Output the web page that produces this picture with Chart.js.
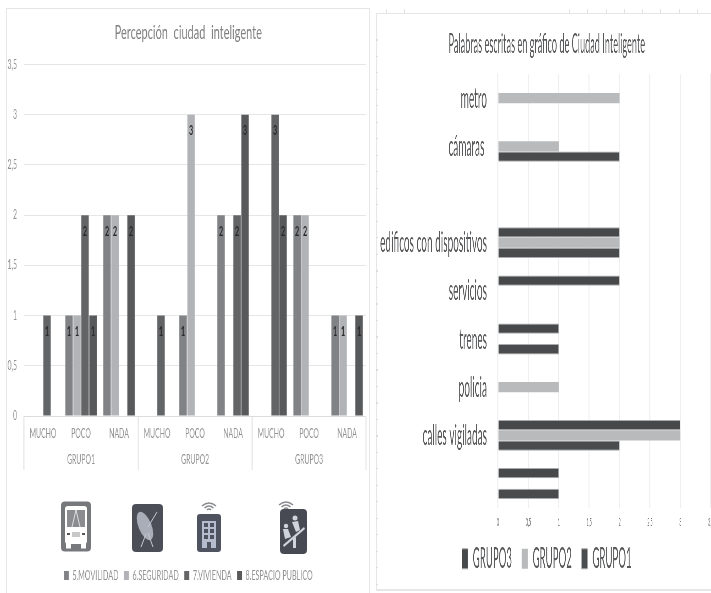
<!DOCTYPE html>
<html lang="es">
<head>
<meta charset="utf-8">
<title>Ciudad inteligente</title>
<script src="https://cdn.jsdelivr.net/npm/chart.js@4/dist/chart.umd.min.js"></script>
<style>
  html, body { margin: 0; padding: 0; background: #fff; width: 711px; height: 593px; overflow: hidden; }
  canvas { position: absolute; transform-origin: 0 0; }
  #percepcion { left: 6px; top: 8px; transform: scaleX(.55); }
  #palabras { left: 376px; top: 13px; transform: scaleX(.34); }
  .marco { position: absolute; box-sizing: border-box; border: 1px solid #e6e6e6; }
  #marco1 { left: 6px; top: 8px; width: 364px; height: 590px; }
  #marco2 { left: 376px; top: 13px; width: 340px; height: 578px; border-width: 1px 0 2px 1px; }
  #iconos { position: absolute; left: 0; top: 495px; }
  /* marcas de regla alrededor del segundo grafico */
  .regla { position: absolute; background: repeating-linear-gradient(90deg, #e2e2e2 0 1px, transparent 1px 18.3px); }
  #regla1 { left: 386px; top: 9px; width: 37px; height: 4px; }
  #regla2 { left: 569px; top: 9px; width: 142px; height: 4px; }
  #regla3 { left: 376px; top: 30px; width: 2px; height: 555px; background: repeating-linear-gradient(0deg, #dcdcdc 0 1px, transparent 1px 16.5px); }
</style>
</head>
<body>
<div class="marco" id="marco1"></div>
<div class="marco" id="marco2"></div>
<div class="regla" id="regla1"></div>
<div class="regla" id="regla2"></div>
<div class="regla" id="regla3"></div>
<canvas id="percepcion" width="670" height="585"></canvas>
<canvas id="palabras" width="1026" height="577"></canvas>

<svg id="iconos" width="330" height="65" viewBox="0 495 330 65">
  <defs>
    <g id="wifi" fill="none" stroke="#8a8c90" stroke-width="1.6">
      <path d="M-7 2 Q0 -4 7 2"/><path d="M-4.5 4 Q0 0 4.5 4"/><path d="M-2 6 Q0 4 2 6"/>
    </g>
  </defs>
  <!-- autobus -->
  <rect x="61" y="501.5" width="30" height="50" rx="4" fill="#77787b"/>
  <g fill="#fff">
    <rect x="65" y="506" width="22" height="38" rx="3"/>
    <rect x="66" y="543" width="5" height="5.5"/><rect x="81" y="543" width="5" height="5.5"/>
  </g>
  <rect x="67" y="510" width="18" height="17" fill="#8b8c8f"/>
  <path d="M76 510 L72 527 M76 510 L80 527" stroke="#fff" stroke-width=".7" fill="none"/>
  <rect x="72" y="532" width="8" height="5" fill="#c9c9ca"/>
  <rect x="67" y="533" width="3" height="2" fill="#58595b"/><rect x="82" y="533" width="3" height="2" fill="#58595b"/>
  <!-- antena -->
  <rect x="132" y="504" width="31" height="48" rx="4" fill="#4b4e57"/>
  <ellipse cx="145" cy="526" rx="6.5" ry="15" fill="#a9adb8" transform="rotate(-22 145 526)"/>
  <path d="M148 527 L157 512 M146 534 L141 547 M148 533 L153 547" stroke="#c4c7cf" stroke-width="1" fill="none"/>
  <!-- edificio -->
  <use href="#wifi" x="209" y="504"/>
  <rect x="197" y="514" width="24" height="38" rx="3" fill="#4f5360"/>
  <rect x="202" y="521" width="14" height="27" fill="#b4bccd"/>
  <g fill="#4f5360">
    <rect x="204" y="523" width="4" height="4"/><rect x="210" y="523" width="4" height="4"/>
    <rect x="204" y="529" width="4" height="4"/><rect x="210" y="529" width="4" height="4"/>
    <rect x="204" y="535" width="4" height="4"/><rect x="210" y="535" width="4" height="4"/>
    <rect x="207" y="542" width="4" height="6"/>
  </g>
  <!-- espacio publico -->
  <use href="#wifi" x="286" y="503"/>
  <rect x="280" y="509" width="27" height="45" rx="4" fill="#474a52"/>
  <g fill="#cfd3dc">
    <circle cx="295" cy="518" r="2.5"/><circle cx="286" cy="526" r="2.2"/>
    <path d="M283 545 L304 527 L305 529 L284 547 Z"/>
    <path d="M292 522 L298 521 L300 530 L296 532 Z"/>
    <path d="M283 529 L288 529 L291 537 L285 539 Z"/>
    <path d="M293 538 L296 537 L296 548 L293 548 Z"/>
  </g>
</svg>

<script>
// Grafico 1: percepcion por grupo
const categorias = [
  ["MUCHO", ""], ["POCO", "GRUPO1"], ["NADA", ""],
  ["MUCHO", ""], ["POCO", "GRUPO2"], ["NADA", ""],
  ["MUCHO", ""], ["POCO", "GRUPO3"], ["NADA", ""]
];
const movilidad = [null, 1, 2, null, 1, 2, null, 2, 1];
const seguridad = [null, 1, 2, null, 3, null, null, 2, 1];
const vivienda = [1, 2, null, 1, null, 2, 3, null, null];
const espacioPublico = [null, 1, 2, null, null, 3, 2, null, 1];

// Grafico 2: palabras escritas
const palabras = ["metro", "cámaras ", "", "edificos con dispositivos", "servicios", "trenes", "policia", "calles vigiladas", ""];
const grupo3 = [null, null, null, 2, 2, 1, null, 3, 1];
const grupo2 = [2, 1, null, 2, null, null, 1, 3, null];
const grupo1 = [null, 2, null, 2, null, 1, null, 2, 1];

const GRIS_TEXTO = "#939393";
const fuente = "Lato";

// numero dentro de cada barra, cerca del extremo superior
const etiquetasBarras = {
  id: "etiquetasBarras",
  afterDatasetsDraw(chart) {
    const ctx = chart.ctx;
    ctx.save();
    ctx.font = "bold 13px " + fuente;
    ctx.fillStyle = "#2a2a2a";
    ctx.textAlign = "center";
    ctx.textBaseline = "middle";
    chart.data.datasets.forEach((ds, i) => {
      chart.getDatasetMeta(i).data.forEach((bar, j) => {
        if (ds.data[j] !== null) ctx.fillText(ds.data[j], bar.x, bar.y + 16.5);
      });
    });
    ctx.restore();
  }
};

// eje vacio a la derecha: reserva margen sin mover titulo ni leyenda
function margenDerecho(ancho) {
  return {
    position: "right",
    afterFit(s) { s.width = ancho; },
    border: { display: false },
    grid: { display: false, drawTicks: false },
    ticks: { display: false }
  };
}

new Chart(document.getElementById("percepcion"), {
  type: "bar",
  plugins: [etiquetasBarras],
  data: {
    labels: categorias,
    datasets: [
      { label: "5.MOVILIDAD", data: movilidad, backgroundColor: "#808285" },
      { label: "6.SEGURIDAD", data: seguridad, backgroundColor: "#b1b3b6" },
      { label: "7.VIVIENDA", data: vivienda, backgroundColor: "#636466" },
      { label: "8.ESPACIO PUBLICO", data: espacioPublico, backgroundColor: "#58595b" }
    ]
  },
  options: {
    responsive: false,
    animation: false,
    layout: { padding: { top: 0, right: 7.3, bottom: 1, left: 0 } },
    datasets: { bar: { categoryPercentage: 0.842, barPercentage: 0.93 } },
    scales: {
      x: {
        afterFit(s) { s.height = 143; },
        border: { color: "#dcdcdc" },
        grid: {
          offset: true,
          drawOnChartArea: false,
          tickLength: 54,
          tickWidth: 2,
          tickColor: c => (c.index === undefined || c.index % 3 === 0) ? "#e4e4e4" : "transparent"
        },
        ticks: {
          padding: -49,
          maxRotation: 0,
          autoSkip: false,
          color: GRIS_TEXTO,
          font: { family: fuente, size: 12.5, lineHeight: 2.08 }
        }
      },
      y: {
        min: 0,
        max: 3.5,
        afterFit(s) { s.width = 32.7; },
        border: { display: false },
        grid: { color: "#e6e6e6", drawTicks: false },
        ticks: {
          stepSize: 0.5,
          padding: 12.7,
          color: GRIS_TEXTO,
          font: { family: fuente, size: 12.5 },
          callback: v => String(v).replace(".", ",")
        }
      },
      margen: margenDerecho(8)
    },
    plugins: {
      tooltip: { enabled: false },
      title: {
        display: true,
        text: "Percepción  ciudad  inteligente",
        color: "#808080",
        font: { family: fuente, size: 20, weight: "normal" },
        padding: { top: 13, bottom: 19.5 }
      },
      legend: {
        position: "bottom",
        labels: {
          boxWidth: 9,
          boxHeight: 9,
          padding: 10,
          color: GRIS_TEXTO,
          font: { family: fuente, size: 13 }
        }
      }
    }
  }
});

new Chart(document.getElementById("palabras"), {
  type: "bar",
  data: {
    labels: palabras,
    datasets: [
      { label: "GRUPO3  ", data: grupo3, backgroundColor: "#47484a", borderColor: "#a8aaad", borderWidth: 1 },
      { label: "GRUPO2  ", data: grupo2, backgroundColor: "#b9babc" },
      { label: "GRUPO1", data: grupo1, backgroundColor: "#4a4b4d", borderColor: "#a8aaad", borderWidth: 1 }
    ]
  },
  options: {
    indexAxis: "y",
    responsive: false,
    animation: false,
    layout: { padding: { top: 0, right: 21.5, bottom: 7, left: 0 } },
    datasets: { bar: { categoryPercentage: 0.64, barPercentage: 1 } },
    scales: {
      x: {
        min: 0,
        max: 3.5,
        afterFit(s) { s.height = 23; },
        border: { display: false },
        grid: { color: "#efefef", lineWidth: 3, drawTicks: false },
        ticks: {
          stepSize: 0.5,
          padding: 8,
          color: "#777777",
          font: { family: fuente, size: 11 },
          callback: v => String(v).replace(".", ",")
        }
      },
      y: {
        afterFit(s) { s.width = 358.8; },
        border: { color: "#efefef", width: 3 },
        grid: { display: false, drawTicks: false },
        ticks: {
          padding: 32.4,
          autoSkip: false,
          color: "#58595b",
          font: { family: fuente, size: 29.6 }
        }
      },
      margen: margenDerecho(20)
    },
    plugins: {
      tooltip: { enabled: false },
      title: {
        display: true,
        text: "Palabras escritas en gráfico de Ciudad Inteligente",
        color: "#58595b",
        font: { family: fuente, size: 27, weight: "normal" },
        padding: { top: 14.8, bottom: 13.8 }
      },
      legend: {
        position: "bottom",
        labels: {
          boxWidth: 17.6,
          boxHeight: 20,
          padding: 14,
          color: "#58595b",
          font: { family: fuente, size: 28.4 }
        }
      }
    }
  }
});
</script>
</body>
</html>
